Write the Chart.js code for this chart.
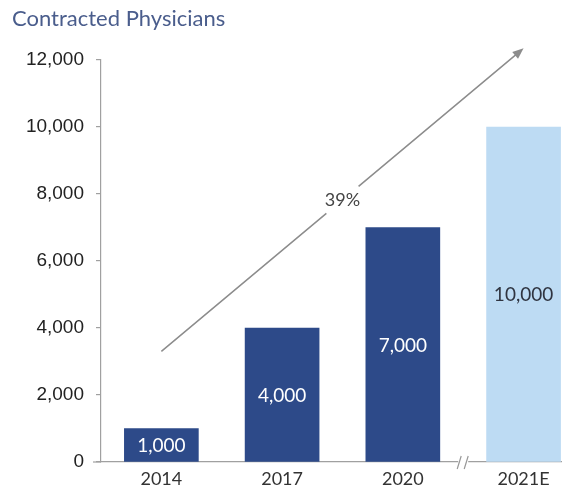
<!DOCTYPE html>
<html>
<head>
<meta charset="utf-8">
<script src="https://cdn.jsdelivr.net/npm/chart.js@4"></script>
<style>
  html, body { margin: 0; padding: 0; background: #fff; }
</style>
</head>
<body>
<canvas id="physiciansChart" width="571" height="495"></canvas>
<script>
const years = ['2014', '2017', '2020', '2021E'];
const physicians = [1000, 4000, 7000, 10000];
const yTicks = [0, 2000, 4000, 6000, 8000, 10000, 12000];
const growthRate = '39%';
// arrow runs from the 2014 column up past the 2021E column (x = column index, y = value)
const growthFrom = [0, 3300];
const growthTo = [3, 12350];
const axisBreakAt = 2.5;

const isEstimate = (i) => years[i].endsWith('E');

const extras = {
    id: 'extras',
    afterDraw(chart) {
        const ctx = chart.ctx;
        const xs = chart.scales.x;
        const ys = chart.scales.y;
        const area = chart.chartArea;
        ctx.save();

        // title
        ctx.font = '22px Lato';
        ctx.fillStyle = '#4a5d8c';
        ctx.textAlign = 'left';
        ctx.textBaseline = 'middle';
        ctx.fillText('Contracted Physicians', 12, 19);

        // values inside the bars
        ctx.font = '19px Lato';
        ctx.textAlign = 'center';
        chart.getDatasetMeta(0).data.forEach((bar, i) => {
            ctx.fillStyle = isEstimate(i) ? '#2f3440' : '#ffffff';
            ctx.fillText(physicians[i].toLocaleString('en-US'), bar.x, (bar.y + bar.base) / 2 + 1);
        });

        // growth arrow with a gap for its label
        const x0 = xs.getPixelForValue(growthFrom[0]);
        const y0 = ys.getPixelForValue(growthFrom[1]);
        const x1 = xs.getPixelForValue(growthTo[0]);
        const y1 = ys.getPixelForValue(growthTo[1]);
        const len = Math.hypot(x1 - x0, y1 - y0);
        const ux = (x1 - x0) / len;
        const uy = (y1 - y0) / len;
        const mx = (x0 + x1) / 2;
        const my = (y0 + y1) / 2;
        const gap = 21;
        ctx.strokeStyle = '#8c8c8c';
        ctx.fillStyle = '#8c8c8c';
        ctx.lineWidth = 1.5;
        ctx.beginPath();
        ctx.moveTo(x0, y0);
        ctx.lineTo(mx - ux * gap, my - uy * gap);
        ctx.moveTo(mx + ux * gap, my + uy * gap);
        ctx.lineTo(x1 - ux * 6, y1 - uy * 6);
        ctx.stroke();
        ctx.beginPath();
        ctx.moveTo(x1, y1);
        ctx.lineTo(x1 - ux * 11 - uy * 4.5, y1 - uy * 11 + ux * 4.5);
        ctx.lineTo(x1 - ux * 11 + uy * 4.5, y1 - uy * 11 - ux * 4.5);
        ctx.closePath();
        ctx.fill();

        ctx.font = '18px Lato';
        ctx.fillStyle = '#444444';
        ctx.fillText(growthRate, mx, my);

        // category axis runs a little past the value axis
        ctx.strokeStyle = '#a0a0a0';
        ctx.lineWidth = 1.2;
        ctx.beginPath();
        ctx.moveTo(area.left - 8, area.bottom);
        ctx.lineTo(area.left, area.bottom);
        ctx.stroke();

        // break mark on the category axis
        const bx = xs.getPixelForValue(axisBreakAt);
        const by = area.bottom;
        ctx.fillStyle = '#ffffff';
        ctx.fillRect(bx - 5, by - 2, 10, 4);
        ctx.strokeStyle = '#999999';
        ctx.beginPath();
        ctx.moveTo(bx - 6, by + 7);
        ctx.lineTo(bx - 2, by - 6);
        ctx.moveTo(bx + 1, by + 7);
        ctx.lineTo(bx + 5, by - 6);
        ctx.stroke();

        ctx.restore();
    }
};

new Chart(document.getElementById('physiciansChart'), {
    type: 'bar',
    data: {
        datasets: [{
            data: years.map((_, i) => ({ x: i, y: physicians[i] })),
            backgroundColor: years.map((_, i) => isEstimate(i) ? '#bddbf3' : '#2d4a89'),
            borderWidth: 0,
            barThickness: 74
        }]
    },
    options: {
        responsive: false,
        devicePixelRatio: 1,
        animation: false,
        layout: { padding: { top: 60, right: 10, left: 0, bottom: 0 } },
        plugins: {
            legend: { display: false },
            tooltip: { enabled: false }
        },
        scales: {
            x: {
                type: 'linear',
                offset: false,
                min: -0.5,
                max: 3.31,
                afterBuildTicks: (scale) => { scale.ticks = years.map((_, i) => ({ value: i })); },
                afterFit: (scale) => { scale.height = 33; },
                ticks: {
                    callback: (v) => years[v],
                    font: { family: 'Lato', size: 18 },
                    color: '#333333',
                    padding: 6,
                    maxRotation: 0,
                    autoSkip: false
                },
                grid: { display: false, drawTicks: false, offset: false },
                border: { color: '#a0a0a0', width: 1.2 }
            },
            y: {
                min: 0,
                max: 12000,
                afterBuildTicks: (scale) => { scale.ticks = yTicks.map(v => ({ value: v })); },
                afterFit: (scale) => { scale.width = 101; },
                ticks: {
                    callback: (v) => v.toLocaleString('en-US'),
                    font: { family: 'Liberation Sans', size: 19 },
                    color: '#222222',
                    padding: 12
                },
                grid: { drawOnChartArea: false, tickLength: 5, color: '#a0a0a0', lineWidth: 1.2 },
                border: { color: '#a0a0a0', width: 1.2 }
            }
        }
    },
    plugins: [extras]
});
</script>
</body>
</html>
